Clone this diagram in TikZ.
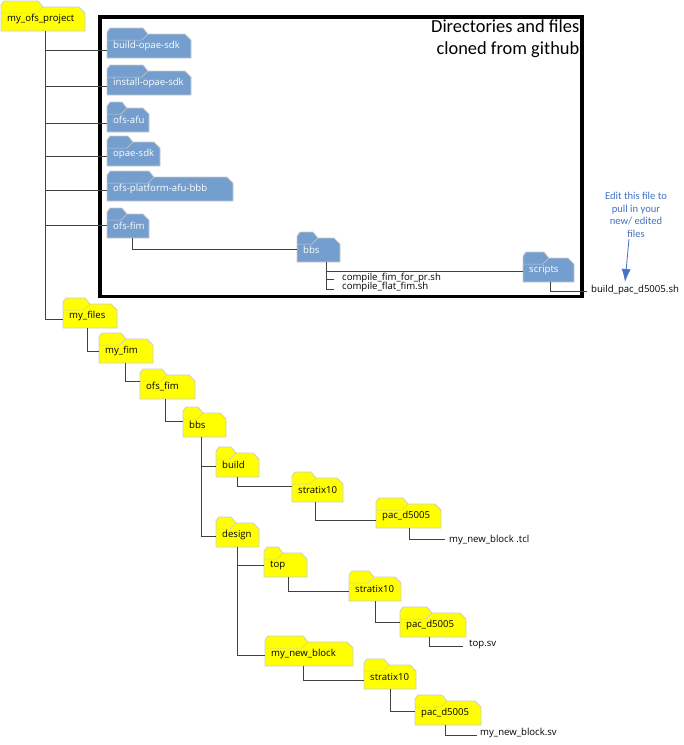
\documentclass[tikz,border=0pt]{standalone}
\usepackage{fontspec}
\setmainfont{Open Sans}
\newfontfamily\calib{Carlito}
\usetikzlibrary{calc,arrows.meta}
\definecolor{fblue}{RGB}{115,158,205}
\definecolor{fyellow}{RGB}{255,255,0}
\definecolor{fedge}{RGB}{205,205,205}
\definecolor{notecol}{RGB}{68,114,196}
\tikzset{
 x=1pt,y=-1pt,
 conn/.style={draw=black!75,line width=0.9pt},
 flabel/.style={font=\fontsize{9.6}{11}\selectfont,inner sep=0pt,anchor=west},
 file/.style={font=\fontsize{9.6}{11}\selectfont,inner sep=0pt,anchor=west,text=black},
 foldbox/.style={inner sep=0pt,anchor=north west}
}
% name, x0,y0,x1,y1, tab end x, fill, text colour, label
\newcommand{\folder}[9]{%
 \path[fill=#7,draw=fedge,line width=0.8pt]
  (#2,#3+4) -- (#2+3,#3) -- (#6-5,#3) -- (#6,#3+6) -- (#4-6,#3+6) -- (#4,#3+12) -- (#4,#5) -- (#2,#5) -- cycle;
 \draw[fedge,line width=0.5pt] (#2,#3+12) -- (#6-6,#3+12) -- (#6,#3+6);
 \node[foldbox,minimum width=#4pt-#2pt,minimum height=#5pt-#3pt] (#1) at (#2,#3) {};
 \node[flabel,text=#8] at (#2+6,#3+18) {#9};
}
% from folder, x offset along its bottom, to folder, y offset down from its top
\newcommand{\fconn}[4]{\draw[conn] ($(#1.south west)+(#2,0)$) |- ($(#3.north west)+(0,#4)$);}
\begin{document}
\begin{tikzpicture}
\useasboundingbox (0,0) rectangle (684,745);
\fill[white] (0,0) rectangle (684,745);
% frame
\coordinate (fnw) at (100,17);
\coordinate (fse) at (582,296.5);
\draw[black,line width=3.6pt] (fnw) rectangle (fse);
\node[font=\calib\fontsize{18.4}{22}\selectfont,align=right,anchor=north east,inner sep=0pt] (title) at (579.5,20) {Directories and files\\cloned from github};
% connector ends that stop short of the file names
\coordinate (e1) at (334,279);
\coordinate (e2) at (334,289);
\coordinate (e3) at (587,291);
\coordinate (e4) at (445,539);
\coordinate (e5) at (463,646);
\coordinate (e6) at (477,735);
% folders
\folder{root}{1}{1}{85}{31}{43}{fyellow}{black}{my\_ofs\_project}
\folder{buildsdk}{107}{28}{191}{58}{148}{fblue}{white}{build-opae-sdk}
\folder{installsdk}{107}{65}{191}{95}{148}{fblue}{white}{install-opae-sdk}
\folder{ofsafu}{107}{102}{149}{132}{127}{fblue}{white}{ofs-afu}
\folder{opaesdk}{107}{136}{160}{166}{133}{fblue}{white}{opae-sdk}
\folder{platform}{107}{171}{233}{201}{154}{fblue}{white}{ofs-platform-afu-bbb}
\folder{ofsfim}{107}{208}{149}{238}{127}{fblue}{white}{ofs-fim}
\folder{bbsa}{297}{232}{340}{262}{318}{fblue}{white}{bbs}
\folder{scripts}{523}{252}{574}{282}{549}{fblue}{white}{scripts}
\folder{myfiles}{63}{298}{117}{328}{90}{fyellow}{black}{my\_files}
\folder{myfim}{99}{333}{153}{363}{126}{fyellow}{black}{my\_fim}
\folder{ofsfimb}{140}{369}{195}{399}{167}{fyellow}{black}{ofs\_fim}
\folder{bbsb}{183}{407}{226}{437}{203}{fyellow}{black}{bbs}
\folder{build}{216}{447}{259}{477}{236}{fyellow}{black}{build}
\folder{stratixa}{292}{472}{343}{502}{316}{fyellow}{black}{stratix10}
\folder{paca}{376}{498}{441}{528}{408}{fyellow}{black}{pac\_d5005}
\folder{design}{216}{517}{259}{547}{236}{fyellow}{black}{design}
\folder{top}{264}{547}{307}{577}{283}{fyellow}{black}{top}
\folder{stratixb}{349}{571}{401}{601}{374}{fyellow}{black}{stratix10}
\folder{pacb}{400}{607}{466}{637}{432}{fyellow}{black}{pac\_d5005}
\folder{newblock}{265}{636}{353}{666}{308}{fyellow}{black}{my\_new\_block}
\folder{stratixc}{364}{659}{416}{689}{389}{fyellow}{black}{stratix10}
\folder{pacc}{415}{695}{481}{725}{447}{fyellow}{black}{pac\_d5005}
% files
\node[file] (f1) at (342,278) {compile\_fim\_for\_pr.sh};
\node[file] (f2) at (342,287) {compile\_flat\_fim.sh};
\node[file] (f3) at (591,290) {build\_pac\_d5005.sh};
\node[file] (f4) at (449,540) {my\_new\_block .tcl};
\node[file] (f5) at (469,644) {top.sv};
\node[file] (f6) at (480,733) {my\_new\_block.sv};
\node[font=\calib\fontsize{10.6}{12.7}\selectfont,align=center,text=notecol,inner sep=0pt] (note) at (636,215) {Edit this file to\\pull in your\\new/ edited\\files};
\coordinate (tip) at (625,282);
\draw[notecol,line width=0.8pt,-{Latex[length=13pt,width=9pt]}] (note.south) ++(-7,1) -- (tip);
% connectors
\fconn{root}{44}{buildsdk}{22}
\fconn{root}{44}{installsdk}{21}
\fconn{root}{44}{ofsafu}{21}
\fconn{root}{44}{opaesdk}{20}
\fconn{root}{44}{platform}{19}
\fconn{root}{44}{ofsfim}{17}
\fconn{root}{44}{myfiles}{21}
\fconn{ofsfim}{25}{bbsa}{17}
\fconn{bbsa}{29}{scripts}{19}
\draw[conn] ($(bbsa.south west)+(29,0)$) |- (e1);
\draw[conn] ($(bbsa.south west)+(29,0)$) |- (e2);
\draw[conn] ($(scripts.south west)+(27,0)$) |- (e3);
\fconn{myfiles}{24}{myfim}{18}
\fconn{myfim}{26}{ofsfimb}{12}
\fconn{ofsfimb}{25}{bbsb}{14}
\fconn{bbsb}{18}{build}{19}
\fconn{bbsb}{18}{design}{19}
\fconn{build}{21}{stratixa}{14}
\fconn{stratixa}{23}{paca}{22}
\draw[conn] ($(paca.south west)+(33,0)$) |- (e4);
\fconn{design}{21}{top}{18}
\fconn{design}{21}{newblock}{19}
\fconn{top}{24}{stratixb}{20}
\fconn{stratixb}{26}{pacb}{15}
\draw[conn] ($(pacb.south west)+(29,0)$) |- (e5);
\fconn{newblock}{38}{stratixc}{21}
\fconn{stratixc}{26}{pacc}{16}
\draw[conn] ($(pacc.south west)+(30,0)$) |- (e6);
\end{tikzpicture}
\end{document}
